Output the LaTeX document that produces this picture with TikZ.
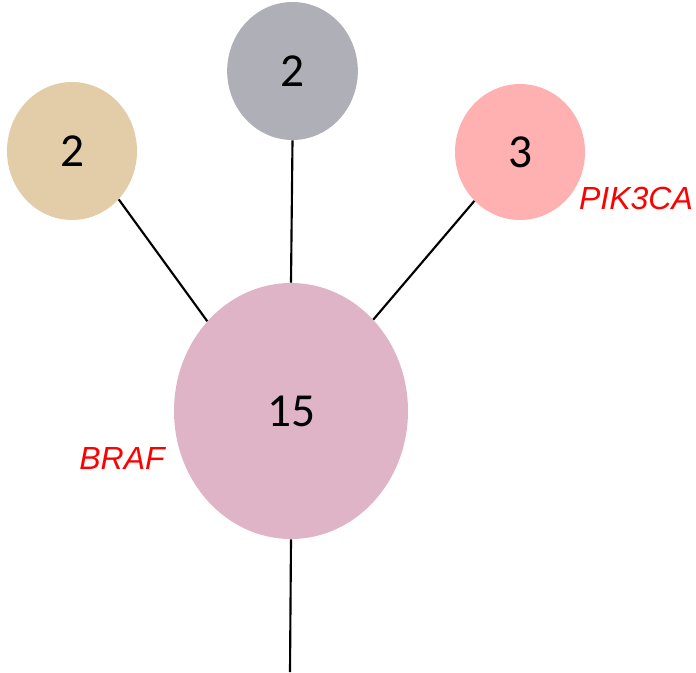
\documentclass[tikz,border=0pt]{standalone}
\usepackage{fontspec}
\setmainfont{Carlito}
\newfontfamily\lblfont{Liberation Sans}
\usetikzlibrary{shapes.geometric}
\definecolor{clonetan}{RGB}{226,205,168}
\definecolor{clonegray}{RGB}{175,175,184}
\definecolor{clonepink}{RGB}{255,176,176}
\definecolor{clonefounder}{RGB}{222,180,198}
\tikzset{clone/.style={ellipse,inner sep=0pt,
    font=\fontsize{35.5}{40}\selectfont}}
\tikzset{genelbl/.style={text=red,inner sep=0pt,
    font=\lblfont\itshape\fontsize{24}{27}\selectfont}}
\tikzset{edge/.style={line width=1.6pt,black}}

\begin{document}
\begin{tikzpicture}[x=0.75pt,y=-0.75pt]

\useasboundingbox (0,0) rectangle (696,672);

%   クローン
\node[clone,fill=clonefounder,minimum width=175.5pt,minimum height=192pt]
    (founder) at (291,411) {15};
\node[clone,fill=clonetan,minimum width=97.5pt,minimum height=103.5pt]
    (tan) at (72,151) {2};
\node[clone,fill=clonegray,minimum width=98pt,minimum height=103.5pt]
    (gray) at (292.5,71) {2};
\node[clone,fill=clonepink,minimum width=97.5pt,minimum height=102pt]
    (pink) at (520,152) {3};

%   下端
\coordinate (root) at (290,672);

%   枝
\draw[edge] (tan.-46) -- (founder.133);
\draw[edge] (gray.south) -- (founder.north);
\draw[edge] (pink.-133) -- (founder.48);
\draw[edge] (founder.south) -- (root);

%   遺伝子名
\node[genelbl] (braf) at (122,458) {BRAF};
\node[genelbl] (pik3ca) at (636,198) {PIK3CA};

\end{tikzpicture}
\end{document}
